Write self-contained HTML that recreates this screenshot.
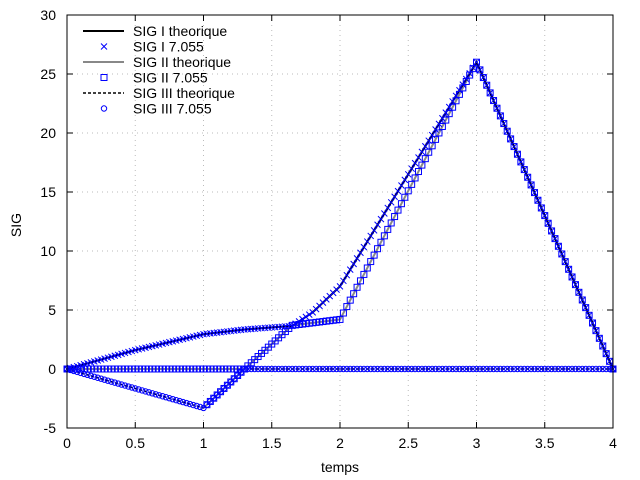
<!DOCTYPE html>
<html><head><meta charset="utf-8"><style>body{margin:0;background:#fff}svg{display:block;font-family:"Liberation Sans",sans-serif}</style></head>
<body>
<svg id="s" width="640" height="480" xmlns="http://www.w3.org/2000/svg"></svg>
<script>
const s=document.getElementById('s');
const X=t=>67+t*136.5, Y=v=>369-v*11.8;
let h='';
for(let i=0;i<=8;i++){const x=X(i*0.5);
 if(i>0&&i<8)h+=`<line x1="${x}" y1="15" x2="${x}" y2="428" stroke="#bbb" stroke-dasharray="1,4"/>`;
 h+=`<line x1="${x}" y1="428" x2="${x}" y2="422" stroke="#000"/><line x1="${x}" y1="15" x2="${x}" y2="21" stroke="#000"/>`;
 h+=`<text x="${x}" y="448" font-size="14" text-anchor="middle">${i*0.5}</text>`;}
for(let v=-5;v<=30;v+=5){const y=Y(v);
 if(v>-5&&v<30)h+=`<line x1="67" y1="${y}" x2="613" y2="${y}" stroke="#bbb" stroke-dasharray="1,4"/>`;
 h+=`<line x1="67" y1="${y}" x2="73" y2="${y}" stroke="#000"/><line x1="613" y1="${y}" x2="607" y2="${y}" stroke="#000"/>`;
 h+=`<text x="56" y="${y+5}" font-size="14" text-anchor="end">${v}</text>`;}
function interp(pts,t){for(let i=0;i<pts.length-1;i++){const a=pts[i],b=pts[i+1];if(t>=a[0]&&t<=b[0])return a[1]+(b[1]-a[1])*(t-a[0])/(b[0]-a[0]);}return pts[pts.length-1][1];}
const S1=[[0,0],[0.5,1.6],[1,2.95],[1.3,3.35],[1.65,3.65],[1.8,4.8],[2,7],[3,26],[4,0]];
const S2a=[[0,0],[1.3,0]], S2b=[[1,-3.3],[1.3,0],[1.65,3.7],[2,4.2],[3,26],[4,0]];
const S3=[[0,0],[1,-3.3],[1.3,0],[4,0]];
const pl=p=>p.map(q=>X(q[0])+','+Y(q[1])).join(' ');
h+=`<polyline points="${pl(S3)}" fill="none" stroke="#000" stroke-width="1.5" stroke-dasharray="3,2"/>`;
h+=`<polyline points="${pl(S2a)}" fill="none" stroke="#888" stroke-width="2"/><polyline points="${pl(S2b)}" fill="none" stroke="#888" stroke-width="2"/>`;
h+=`<polyline points="${pl(S1)}" fill="none" stroke="#000" stroke-width="2"/>`;
const sq=(x,y)=>`<rect x="${x-3}" y="${y-3}" width="6" height="6" fill="none" stroke="#00f"/>`;
for(let k=0;k<=160;k++){const t=k*0.025;
 let x=X(t),y=Y(interp(S3,t));h+=`<circle cx="${x}" cy="${y}" r="2.7" fill="none" stroke="#00f"/>`;
 if(t<=1.3)h+=sq(x,Y(0));
 if(t>1)h+=sq(x,Y(interp(S2b,t)));
 y=Y(interp(S1,t));h+=`<path d="M${x-3},${y-3}L${x+3},${y+3}M${x-3},${y+3}L${x+3},${y-3}" stroke="#00f"/>`;}
h+=`<rect x="67" y="15" width="546" height="413" fill="none" stroke="#000"/>`;
const L=[['SIG I theorique','l1'],['SIG I 7.055','x'],['SIG II theorique','l2'],['SIG II 7.055','sq'],['SIG III theorique','l3'],['SIG III 7.055','c']];
L.forEach((e,i)=>{const y=31+i*15.5;
 if(e[1]=='l1')h+=`<line x1="83" y1="${y}" x2="124" y2="${y}" stroke="#000" stroke-width="2"/>`;
 if(e[1]=='l2')h+=`<line x1="83" y1="${y}" x2="124" y2="${y}" stroke="#888" stroke-width="2"/>`;
 if(e[1]=='l3')h+=`<line x1="83" y1="${y}" x2="124" y2="${y}" stroke="#000" stroke-width="1.5" stroke-dasharray="3,2"/>`;
 if(e[1]=='x')h+=`<path d="M101,${y-3}L107,${y+3}M101,${y+3}L107,${y-3}" stroke="#00f"/>`;
 if(e[1]=='sq')h+=`<rect x="101" y="${y-3}" width="6" height="6" fill="none" stroke="#00f"/>`;
 if(e[1]=='c')h+=`<circle cx="104" cy="${y}" r="2.7" fill="none" stroke="#00f"/>`;
 h+=`<text x="133" y="${y+5}" font-size="14">${e[0]}</text>`;});
h+=`<text x="340" y="472" font-size="14" text-anchor="middle">temps</text>`;
h+=`<text transform="translate(21,225) rotate(-90)" font-size="14" text-anchor="middle">SIG</text>`;
s.innerHTML=h;
</script>
</body></html>
